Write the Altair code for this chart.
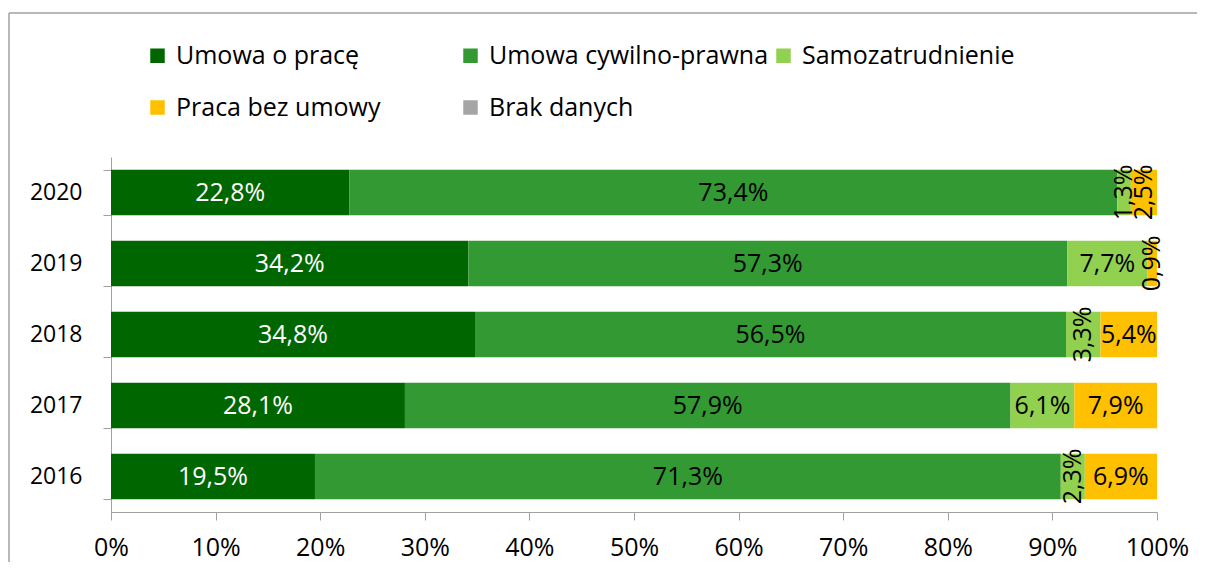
import altair as alt
import pandas as pd

years = ["2020", "2019", "2018", "2017", "2016"]
categories = ["Umowa o pracę", "Umowa cywilno-prawna", "Samozatrudnienie",
              "Praca bez umowy", "Brak danych"]
umowa_o_prace = [22.8, 34.2, 34.8, 28.1, 19.5]
umowa_cywilno = [73.4, 57.3, 56.5, 57.9, 71.3]
samozatrudnienie = [1.3, 7.7, 3.3, 6.1, 2.3]
praca_bez_umowy = [2.5, 0.9, 5.4, 7.9, 6.9]
brak_danych = [0.0, 0.0, 0.0, 0.0, 0.0]
colors = ["#006600", "#339933", "#92D050", "#FFC000", "#A5A5A5"]
x_ticks = [0, 0.1, 0.2, 0.3, 0.4, 0.5, 0.6, 0.7, 0.8, 0.9, 1.0]

series = [umowa_o_prace, umowa_cywilno, samozatrudnienie, praca_bez_umowy, brak_danych]
rows = []
for ci, (cat, vals) in enumerate(zip(categories, series)):
    for y, v in zip(years, vals):
        rows.append({"year": y, "cat": cat, "order": ci, "value": v,
                     "label": f"{v:.1f}".replace(".", ",") + "%"})
df = pd.DataFrame(rows)

FONT = "Open Sans"

base = alt.Chart(df).transform_stack(
    stack="value", as_=["x0", "x1"], groupby=["year"],
    sort=[alt.SortField("order")], offset="normalize"
).transform_calculate(mid="(datum.x0 + datum.x1) / 2")

yenc = alt.Y("year:N", sort=years, title=None,
             scale=alt.Scale(paddingInner=0.36, paddingOuter=0.18),
             axis=alt.Axis(tickBand="extent", tickSize=8, tickColor="#A0A0A0",
                           domainColor="#A0A0A0", labelPadding=21,
                           labelFontSize=23, labelFont=FONT, labelColor="black"))

bars = base.mark_bar().encode(
    y=yenc,
    x=alt.X("x0:Q", title=None, scale=alt.Scale(domain=[0, 1], nice=False),
            axis=alt.Axis(format=".0%", values=x_ticks, grid=False, tickSize=8,
                          tickColor="#A0A0A0", domainColor="#A0A0A0",
                          labelFlush=False, labelOverlap=False,
                          labelPadding=15, labelFontSize=25, labelFont=FONT,
                          labelColor="black")),
    x2="x1:Q",
    color=alt.Color("cat:N", scale=alt.Scale(domain=categories, range=colors),
                    legend=alt.Legend(title=None, orient="none", legendX=34, legendY=-114,
                                      direction="horizontal",
                                      columns=3, gridAlign="all", symbolType="square",
                                      symbolSize=210, symbolStrokeWidth=0,
                                      labelFontSize=25, labelFont=FONT, labelColor="black",
                                      labelOffset=6, columnPadding=2, rowPadding=26,
                                      labelLimit=400)),
)

text = base.transform_filter("datum.value > 0").mark_text(
    fontSize=25, font=FONT, align="center", baseline="middle"
).encode(
    y=yenc,
    x=alt.X("mid:Q"),
    text="label:N",
    color=alt.condition("datum.cat == 'Umowa o pracę'", alt.value("white"), alt.value("black")),
    angle=alt.condition("datum.value < 4", alt.value(270), alt.value(0)),
)

frame_top = alt.Chart(alt.Data(values=[{}])).mark_rule(color="#A0A0A0", strokeWidth=1.5).encode(
    x=alt.value(-102), x2=alt.value(1086), y=alt.value(-144))
frame_left = alt.Chart(alt.Data(values=[{}])).mark_rule(color="#A0A0A0", strokeWidth=1.5).encode(
    x=alt.value(-102), y=alt.value(-144), y2=alt.value(405))

chart = alt.layer(bars, text, frame_top, frame_left).properties(
    width=1046, height=355,
    autosize=alt.AutoSizeParams(type="none"),
    padding={"left": 103, "top": 149, "right": 40, "bottom": 50},
).configure_view(stroke=None)

chart.save("out.html", embed_options={"renderer": "svg", "actions": False})
